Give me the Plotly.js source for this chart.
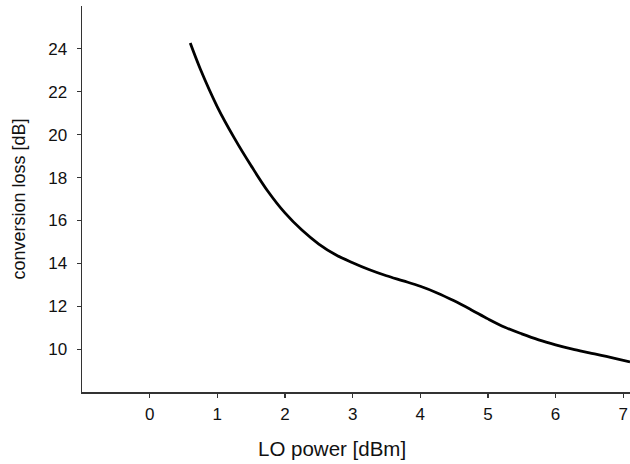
<!DOCTYPE html>
<html>
<head>
<meta charset="utf-8">
<script src="https://cdn.plot.ly/plotly-3.0.1.min.js"></script>
<style>html,body{margin:0;padding:0;background:#fff;}#chart{width:630px;height:464px;}</style>
</head>
<body>
<div id="chart"></div>
<script>
const loPower = [0.6, 0.75, 1.0, 1.25, 1.5, 1.75, 2.0, 2.25, 2.5, 2.75, 3.0, 3.25, 3.5, 3.75, 4.0, 4.25, 4.5, 4.75, 5.0, 5.25, 5.5, 5.75, 6.0, 6.25, 6.5, 6.75, 7.1];
const convLoss = [24.27, 23.05, 21.3, 19.85, 18.55, 17.35, 16.35, 15.55, 14.9, 14.4, 14.03, 13.70, 13.42, 13.18, 12.93, 12.62, 12.25, 11.84, 11.41, 11.02, 10.71, 10.43, 10.20, 10.00, 9.83, 9.66, 9.40];
const xTicks = [0, 1, 2, 3, 4, 5, 6, 7];
const yTicks = [10, 12, 14, 16, 18, 20, 22, 24];
const xLabel = 'LO power [dBm]';
const yLabel = 'conversion loss [dB]';

const font = {family: 'Liberation Sans, Arial, sans-serif', color: '#111'};

const trace = {
  x: loPower, y: convLoss, type: 'scatter', mode: 'lines',
  line: {color: '#000', width: 2.8, shape: 'spline', smoothing: 1},
  hoverinfo: 'skip', showlegend: false
};

const layout = {
  width: 630, height: 464,
  margin: {l: 82, r: 0, t: 6, b: 72, pad: 0},
  paper_bgcolor: '#fff', plot_bgcolor: '#fff',
  font: Object.assign({size: 17}, font),
  xaxis: {
    range: [-1, 7.1], tickvals: xTicks, ticktext: xTicks.map(String),
    showgrid: false, zeroline: false, showline: true, linecolor: '#333', linewidth: 1.5,
    ticks: 'outside', ticklen: 4, tickwidth: 1.2, tickcolor: '#333',
    ticklabelstandoff: 2,
    tickfont: Object.assign({size: 17}, font), fixedrange: true
  },
  yaxis: {
    range: [8, 26], tickvals: yTicks, ticktext: yTicks.map(String),
    showgrid: false, zeroline: false, showline: true, linecolor: '#333', linewidth: 1.5,
    ticks: 'outside', ticklen: 4, tickwidth: 1.2, tickcolor: '#333',
    ticklabelstandoff: 6,
    tickfont: Object.assign({size: 17}, font),
    title: {text: yLabel, font: Object.assign({size: 18}, font), standoff: 18},
    automargin: false, fixedrange: true
  },
  annotations: [{
    text: xLabel, xref: 'paper', yref: 'paper',
    x: (332 - 82) / 548, y: -(448 - 392) / 386,
    xanchor: 'center', yanchor: 'middle', showarrow: false,
    font: Object.assign({size: 20.5}, font)
  }]
};

Plotly.newPlot('chart', [trace], layout, {displayModeBar: false, staticPlot: true});
</script>
</body>
</html>
